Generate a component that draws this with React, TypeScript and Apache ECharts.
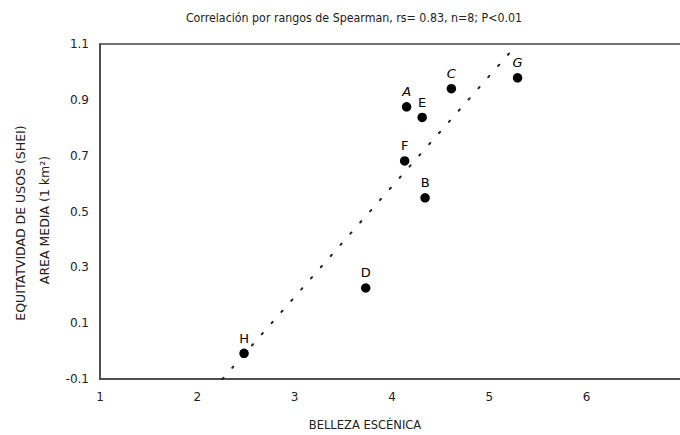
import React, { useEffect, useRef } from "react";
import * as echarts from "echarts";

const titleText = "Correlación por rangos de Spearman, rs= 0.83, n=8; P<0.01";
const xAxisName = "BELLEZA ESCÉNICA";
const yAxisName1 = "EQUITATVIDAD DE USOS (SHEI)";
const yAxisName2 = "AREA MEDIA (1 km²)";

const pointNames = ["A", "B", "C", "D", "E", "F", "G", "H"];
const xValues = [4.15, 4.34, 4.61, 3.73, 4.31, 4.13, 5.29, 2.48];
const yValues = [0.875, 0.549, 0.94, 0.226, 0.837, 0.681, 0.979, -0.008];
const italicNames = ["A", "C", "G"];

const trendX = [2.257, 5.289];
const trendY = [-0.1, 1.1];

const xMin = 1, xMax = 7, xStep = 1;
const yMin = -0.1, yMax = 1.1, yStep = 0.2;

const SANS = "DejaVu Sans, Verdana, sans-serif";
const COND = "DejaVu Sans Condensed, Liberation Sans Narrow, Roboto Condensed, DejaVu Sans, sans-serif";

export default function App() {
  const ref = useRef<HTMLDivElement>(null);
  useEffect(() => {
    if (!ref.current) return;
    document.body.style.margin = "0";
    document.body.style.overflow = "hidden";
    const chart = echarts.init(ref.current, undefined, { renderer: "svg" });
    const points = pointNames.map((n, i) => ({
      name: n,
      value: [xValues[i], yValues[i]],
      label: { fontStyle: italicNames.includes(n) ? "italic" : "normal" },
    }));
    chart.setOption({
      animation: false,
      backgroundColor: "#ffffff",
      grid: {
        left: 100,
        top: 44,
        bottom: 56,
        right: 16,
        show: true,
        borderColor: "#444",
        borderWidth: 1.5,
      },
      xAxis: {
        type: "value",
        min: xMin,
        max: xMax,
        interval: xStep,
        axisLine: { show: true, onZero: false, lineStyle: { color: "#444", width: 1.5 } },
        axisTick: { show: false },
        splitLine: { show: false },
        axisLabel: { color: "#222", fontSize: 12, fontFamily: SANS, margin: 12, showMaxLabel: true },
      },
      yAxis: {
        type: "value",
        min: yMin,
        max: yMax,
        interval: yStep,
        axisLine: { show: true, onZero: false, lineStyle: { color: "#444", width: 1.5 } },
        axisTick: { show: false },
        splitLine: { show: false },
        axisLabel: {
          color: "#222",
          fontSize: 12,
          fontFamily: SANS,
          margin: 11,
          formatter: (v: number) => v.toFixed(1),
        },
      },
      graphic: [
        {
          type: "text",
          x: 354,
          y: 18,
          style: {
            text: titleText,
            fill: "#222",
            font: `12.3px ${COND}`,
            align: "center",
            verticalAlign: "middle",
          },
        },
        {
          type: "text",
          x: 365,
          y: 424,
          style: {
            text: xAxisName,
            fill: "#222",
            font: `12.8px ${COND}`,
            align: "center",
            verticalAlign: "middle",
          },
        },
        {
          type: "text",
          x: 20,
          y: 223,
          rotation: Math.PI / 2,
          style: {
            text: yAxisName1,
            fill: "#222",
            font: `12.5px ${SANS}`,
            align: "center",
            verticalAlign: "middle",
          },
        },
        {
          type: "text",
          x: 44,
          y: 220,
          rotation: Math.PI / 2,
          style: {
            text: yAxisName2,
            fill: "#222",
            font: `12.5px ${SANS}`,
            align: "center",
            verticalAlign: "middle",
          },
        },
      ],
      series: [
        {
          type: "line",
          data: trendX.map((x, i) => [x, trendY[i]]),
          symbol: "none",
          silent: true,
          lineStyle: { color: "#222", width: 2, type: [1.6, 13.3], cap: "round" },
          z: 1,
        },
        {
          type: "scatter",
          data: points,
          symbol: "circle",
          symbolSize: 9.5,
          itemStyle: { color: "#000", opacity: 1 },
          label: {
            show: true,
            position: "top",
            distance: 4,
            formatter: "{b}",
            color: "#000",
            fontSize: 13,
            fontFamily: SANS,
          },
          z: 3,
        },
      ],
    });
    return () => chart.dispose();
  }, []);
  return (
    <div
      ref={ref}
      style={{ position: "fixed", left: 0, top: 0, width: 700, height: 435, background: "#fff" }}
    />
  );
}
